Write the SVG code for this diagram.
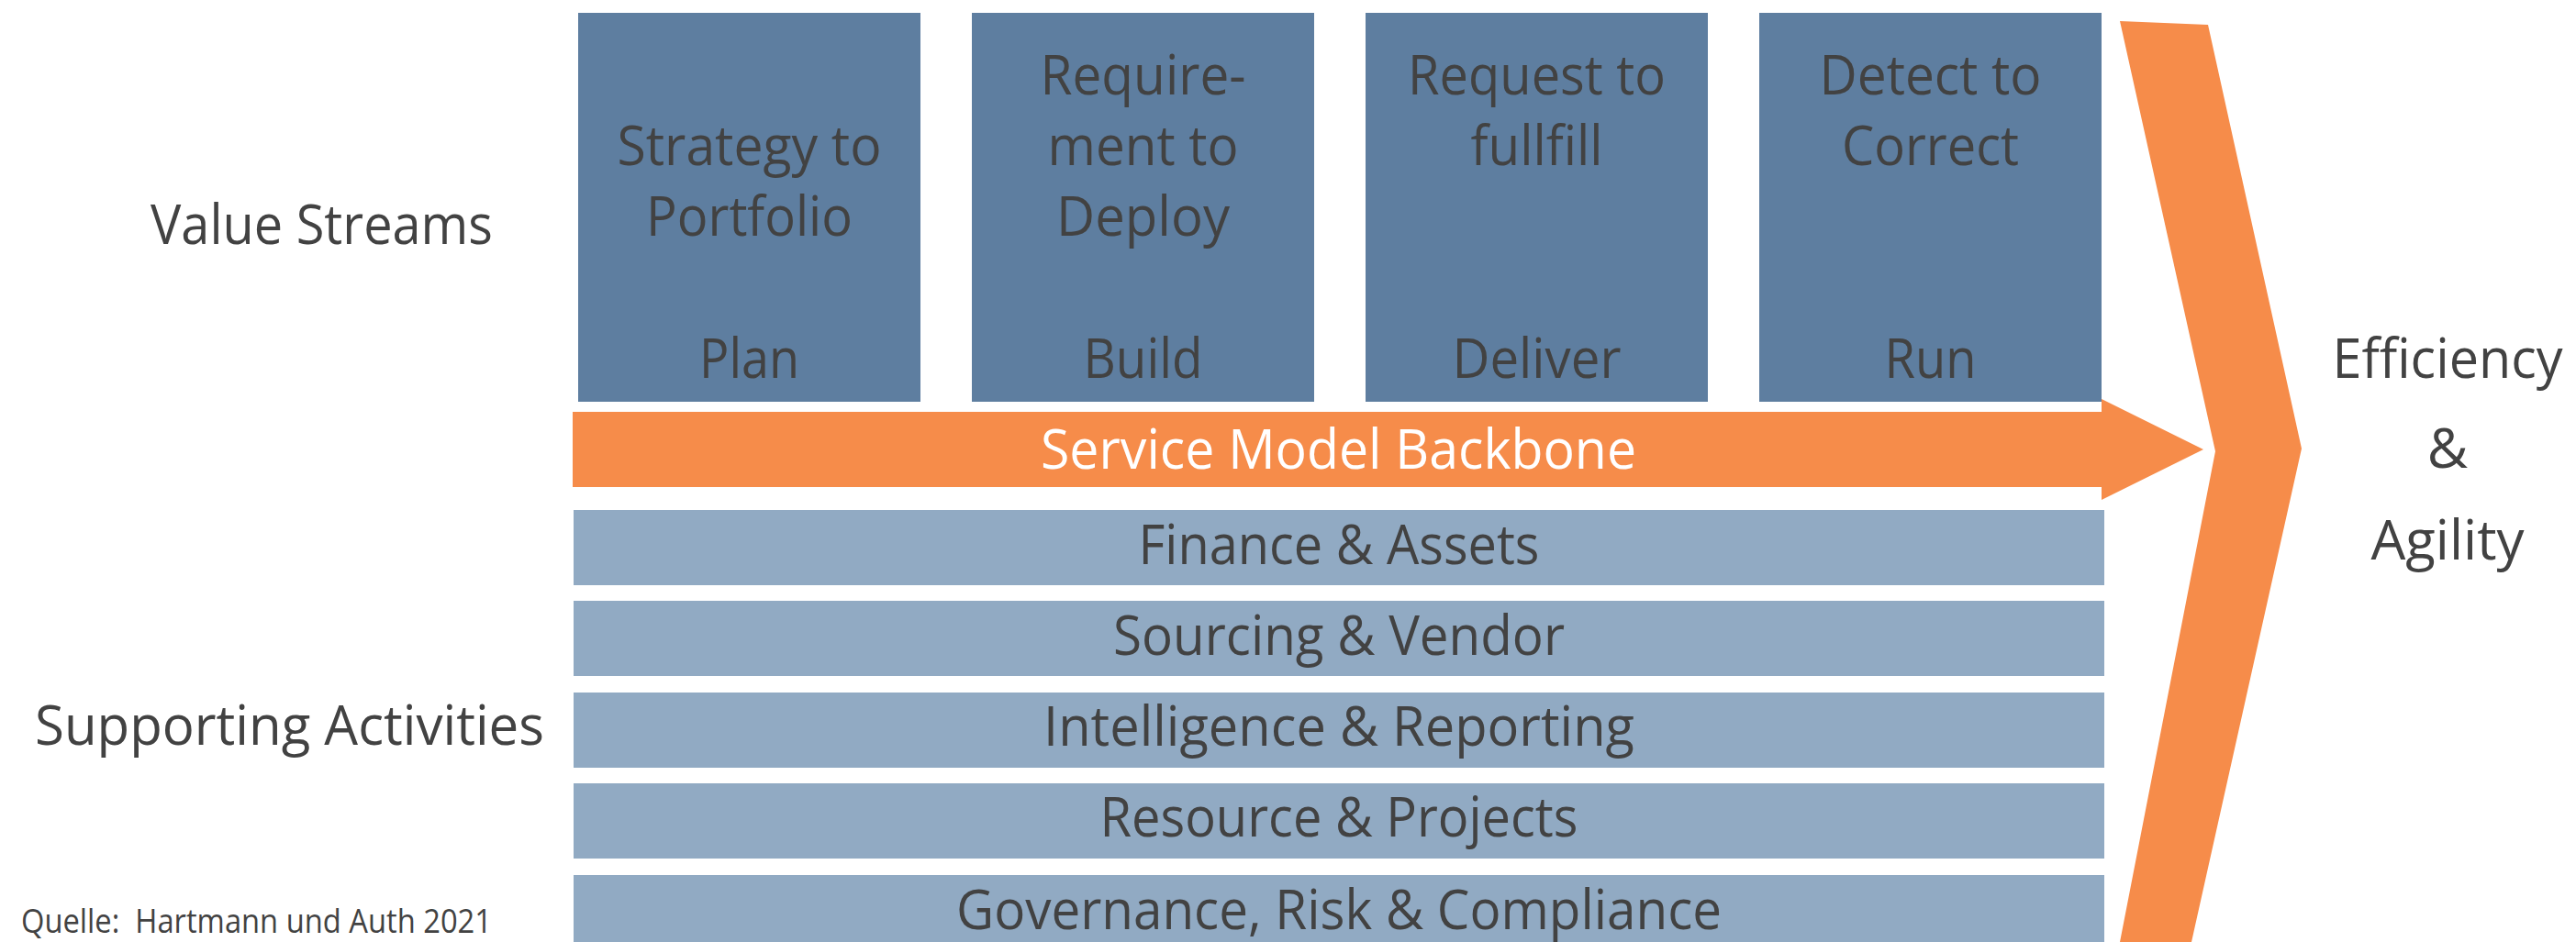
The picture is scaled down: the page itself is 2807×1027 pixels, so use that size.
<svg xmlns="http://www.w3.org/2000/svg" width="2807" height="1027" viewBox="0 0 2807 1027">
  <style>
    text { font-family: "Open Sans", "Noto Sans", "Liberation Sans", sans-serif; fill: #424242; }
    .lbl { font-size: 61px; }
    .mid { text-anchor: middle; }
    .stream { fill: #5E7EA0; }
    .support { fill: #91AAC3; }
    .orange { fill: #F68C4A; }
    .white { fill: #FFFFFF; }
    .src { font-size: 36px; }
  </style>
  <rect width="2807" height="1027" fill="#FFFFFF"/>

  <!-- side labels -->
  <text id="label-value-streams" class="lbl" x="164" y="266" textLength="373" lengthAdjust="spacingAndGlyphs">Value Streams</text>
  <text id="label-supporting" class="lbl" x="38" y="812" textLength="555" lengthAdjust="spacingAndGlyphs">Supporting Activities</text>
  <text id="label-source" class="src" x="23" y="1017" textLength="513" lengthAdjust="spacingAndGlyphs" xml:space="preserve">Quelle:  Hartmann und Auth 2021</text>

  <!-- value streams -->
  <g id="stream-plan">
    <rect class="stream" x="630" y="14" width="373" height="424"/>
    <text class="lbl mid" x="816.5" y="180" textLength="288" lengthAdjust="spacingAndGlyphs">Strategy to</text>
    <text class="lbl mid" x="816.5" y="257" textLength="225" lengthAdjust="spacingAndGlyphs">Portfolio</text>
    <text class="lbl mid" x="816.5" y="412" textLength="109" lengthAdjust="spacingAndGlyphs">Plan</text>
  </g>
  <g id="stream-build">
    <rect class="stream" x="1059" y="14" width="373" height="424"/>
    <text class="lbl mid" x="1245.5" y="103" textLength="224" lengthAdjust="spacingAndGlyphs">Require-</text>
    <text class="lbl mid" x="1245.5" y="180" textLength="208" lengthAdjust="spacingAndGlyphs">ment to</text>
    <text class="lbl mid" x="1245.5" y="257" textLength="189" lengthAdjust="spacingAndGlyphs">Deploy</text>
    <text class="lbl mid" x="1245.5" y="412" textLength="130" lengthAdjust="spacingAndGlyphs">Build</text>
  </g>
  <g id="stream-deliver">
    <rect class="stream" x="1488" y="14" width="373" height="424"/>
    <text class="lbl mid" x="1674.5" y="103" textLength="281" lengthAdjust="spacingAndGlyphs">Request to</text>
    <text class="lbl mid" x="1674.5" y="180" textLength="144" lengthAdjust="spacingAndGlyphs">fullfill</text>
    <text class="lbl mid" x="1674.5" y="412" textLength="184" lengthAdjust="spacingAndGlyphs">Deliver</text>
  </g>
  <g id="stream-run">
    <rect class="stream" x="1917" y="14" width="373" height="424"/>
    <text class="lbl mid" x="2103.5" y="103" textLength="242" lengthAdjust="spacingAndGlyphs">Detect to</text>
    <text class="lbl mid" x="2103.5" y="180" textLength="193" lengthAdjust="spacingAndGlyphs">Correct</text>
    <text class="lbl mid" x="2103.5" y="412" textLength="100" lengthAdjust="spacingAndGlyphs">Run</text>
  </g>

  <!-- service model backbone arrow -->
  <g id="backbone">
    <polygon class="orange" points="624,449 2290,449 2290,435 2401,490 2290,545 2290,531 624,531"/>
    <text class="lbl mid white" x="1458.5" y="511" textLength="649" lengthAdjust="spacingAndGlyphs">Service Model Backbone</text>
  </g>

  <!-- supporting activities -->
  <g id="support-finance">
    <rect class="support" x="625" y="556" width="1668" height="82"/>
    <text class="lbl mid" x="1459" y="615" textLength="437" lengthAdjust="spacingAndGlyphs">Finance &amp; Assets</text>
  </g>
  <g id="support-sourcing">
    <rect class="support" x="625" y="655" width="1668" height="82"/>
    <text class="lbl mid" x="1459" y="714" textLength="492" lengthAdjust="spacingAndGlyphs">Sourcing &amp; Vendor</text>
  </g>
  <g id="support-intelligence">
    <rect class="support" x="625" y="755" width="1668" height="82"/>
    <text class="lbl mid" x="1459" y="813" textLength="644" lengthAdjust="spacingAndGlyphs">Intelligence &amp; Reporting</text>
  </g>
  <g id="support-resource">
    <rect class="support" x="625" y="854" width="1668" height="82"/>
    <text class="lbl mid" x="1459" y="912" textLength="521" lengthAdjust="spacingAndGlyphs">Resource &amp; Projects</text>
  </g>
  <g id="support-governance">
    <rect class="support" x="625" y="954" width="1668" height="82"/>
    <text class="lbl mid" x="1459" y="1013" textLength="834" lengthAdjust="spacingAndGlyphs">Governance, Risk &amp; Compliance</text>
  </g>

  <!-- outcome chevron -->
  <g id="outcome">
    <polygon class="orange" points="2310,23 2406,27 2508,489 2388,1027 2310,1027 2414,492"/>
    <text class="lbl mid" x="2667" y="412" textLength="251" lengthAdjust="spacingAndGlyphs">Efficiency</text>
    <text class="lbl mid" x="2667" y="510">&amp;</text>
    <text class="lbl mid" x="2667" y="610" textLength="167" lengthAdjust="spacingAndGlyphs">Agility</text>
  </g>
</svg>
